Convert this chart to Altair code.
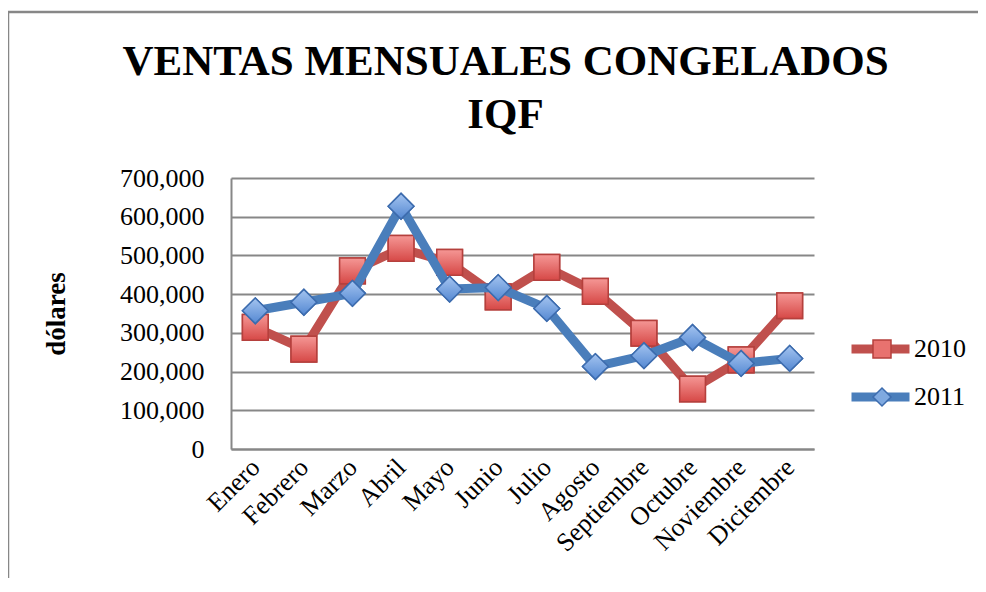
import altair as alt
import pandas as pd

meses = ["Enero", "Febrero", "Marzo", "Abril", "Mayo", "Junio", "Julio",
         "Agosto", "Septiembre", "Octubre", "Noviembre", "Diciembre"]
ventas_2010 = [314000, 258000, 460000, 518000, 482000, 393000, 469000,
               407000, 299000, 155000, 230000, 370000]
ventas_2011 = [357000, 379000, 402000, 627000, 413000, 417000, 363000,
               213000, 241000, 288000, 221000, 234000]
series = ["2010", "2011"]
y_ticks = [0, 100000, 200000, 300000, 400000, 500000, 600000, 700000]

colores_linea = ["#C0504D", "#4A7EBB"]
colores_relleno = ["#E8726F", "#7FA9E0"]
colores_borde = ["#B5403D", "#3D6CAE"]
degradados = [("#F59795", "#D64846"), ("#A4C4F0", "#5488D2")]
formas = ["square", "diamond"]

rows = []
for s, vals in zip(series, [ventas_2010, ventas_2011]):
    for m, v in zip(meses, vals):
        rows.append({"mes": m, "serie": s, "serie_m": s, "ventas": v})
df = pd.DataFrame(rows)

FONT = "Liberation Serif"
GRAY = "#878787"
W, H = 583, 271

x_enc = alt.X(
    "mes:N", sort=meses,
    scale=alt.Scale(type="point", padding=0.5),
    axis=alt.Axis(title=None, labelAngle=315, labelAlign="right",
                  labelBaseline="middle", labelPadding=14, labelFontSize=26,
                  labelFont=FONT, labelColor="black", ticks=False,
                  domainColor=GRAY, domainWidth=2, grid=False),
)
y_enc = alt.Y(
    "ventas:Q",
    scale=alt.Scale(domain=[0, 700000], nice=False),
    axis=alt.Axis(values=y_ticks, format=",.0f", title="dólares",
                  titleFont=FONT, titleFontSize=27, titleFontWeight="bold",
                  titleColor="black", titleX=-175, titleY=H / 2,
                  titleAngle=270, titleAlign="center", titleBaseline="middle",
                  labelFont=FONT, labelFontSize=26, labelColor="black",
                  labelPadding=27, ticks=False, domainColor=GRAY,
                  domainWidth=2, gridColor=GRAY, gridWidth=2),
)

leg_line = alt.Legend(title=None, orient="none", legendX=616, legendY=156,
                      symbolType="stroke", symbolSize=3364,
                      symbolStrokeWidth=9, clipHeight=30, rowPadding=18,
                      labelFont=FONT, labelFontSize=26, labelColor="black",
                      labelOffset=0, padding=0)
leg_pt = alt.Legend(title=None, orient="none", legendX=638, legendY=156,
                    symbolSize=324, symbolStrokeWidth=1.5, clipHeight=30,
                    rowPadding=18, labelExpr="''", labelFontSize=26,
                    padding=0)

color_enc = alt.Color("serie:N", scale=alt.Scale(range=colores_linea),
                      legend=leg_line)
shape_enc = alt.Shape("serie_m:N", scale=alt.Scale(range=formas), legend=leg_pt)
fill_enc = alt.Fill("serie_m:N", scale=alt.Scale(range=colores_relleno),
                    legend=leg_pt)
stroke_enc = alt.Stroke("serie_m:N", scale=alt.Scale(range=colores_borde),
                        legend=leg_pt)

base = alt.Chart(df)


def linea(s):
    return base.transform_filter(alt.datum.serie == s).mark_line(
        strokeWidth=9, strokeJoin="round", strokeCap="round"
    ).encode(x=x_enc, y=y_enc, color=color_enc)


def puntos(s):
    return base.transform_filter(alt.datum.serie == s).mark_point(
        filled=True, opacity=1, size=660, strokeWidth=1.5
    ).encode(x=x_enc, y=y_enc, shape=shape_enc, fill=fill_enc,
             stroke=stroke_enc)


def brillo(i):
    s = series[i]
    top, bottom = degradados[i]
    grad = alt.LinearGradient(
        gradient="linear", x1=0, y1=0, x2=0, y2=1,
        stops=[alt.GradientStop(color=top, offset=0),
               alt.GradientStop(color=bottom, offset=1)])
    return base.transform_filter(alt.datum.serie == s).mark_point(
        shape=formas[i], filled=True, opacity=1, size=660, strokeWidth=1.5,
        fill=grad, stroke=colores_borde[i]
    ).encode(x=x_enc, y=y_enc)


marco = alt.Chart(alt.Data(values=[{"k": 1}])).mark_rect(
    fill="transparent", stroke=GRAY, strokeWidth=2.5, clip=False
).encode(x=alt.value(-223), x2=alt.value(900),
         y=alt.value(-166), y2=alt.value(700))

chart = alt.layer(
    marco,
    linea("2010"), puntos("2010"), brillo(0),
    linea("2011"), puntos("2011"), brillo(1),
).properties(
    width=W, height=H,
    autosize=alt.AutoSizeParams(type="none"),
    padding={"left": 223, "top": 170, "right": 164, "bottom": 129},
    title=alt.TitleParams(
        text=["VENTAS MENSUALES CONGELADOS", "IQF"], font=FONT, fontSize=43,
        fontWeight="bold", color="black", anchor="middle", frame="group",
        dx=-17, offset=-126, lineHeight=53),
).configure_view(strokeWidth=0)

chart.save("out.html", embed_options={"renderer": "svg", "actions": False})
